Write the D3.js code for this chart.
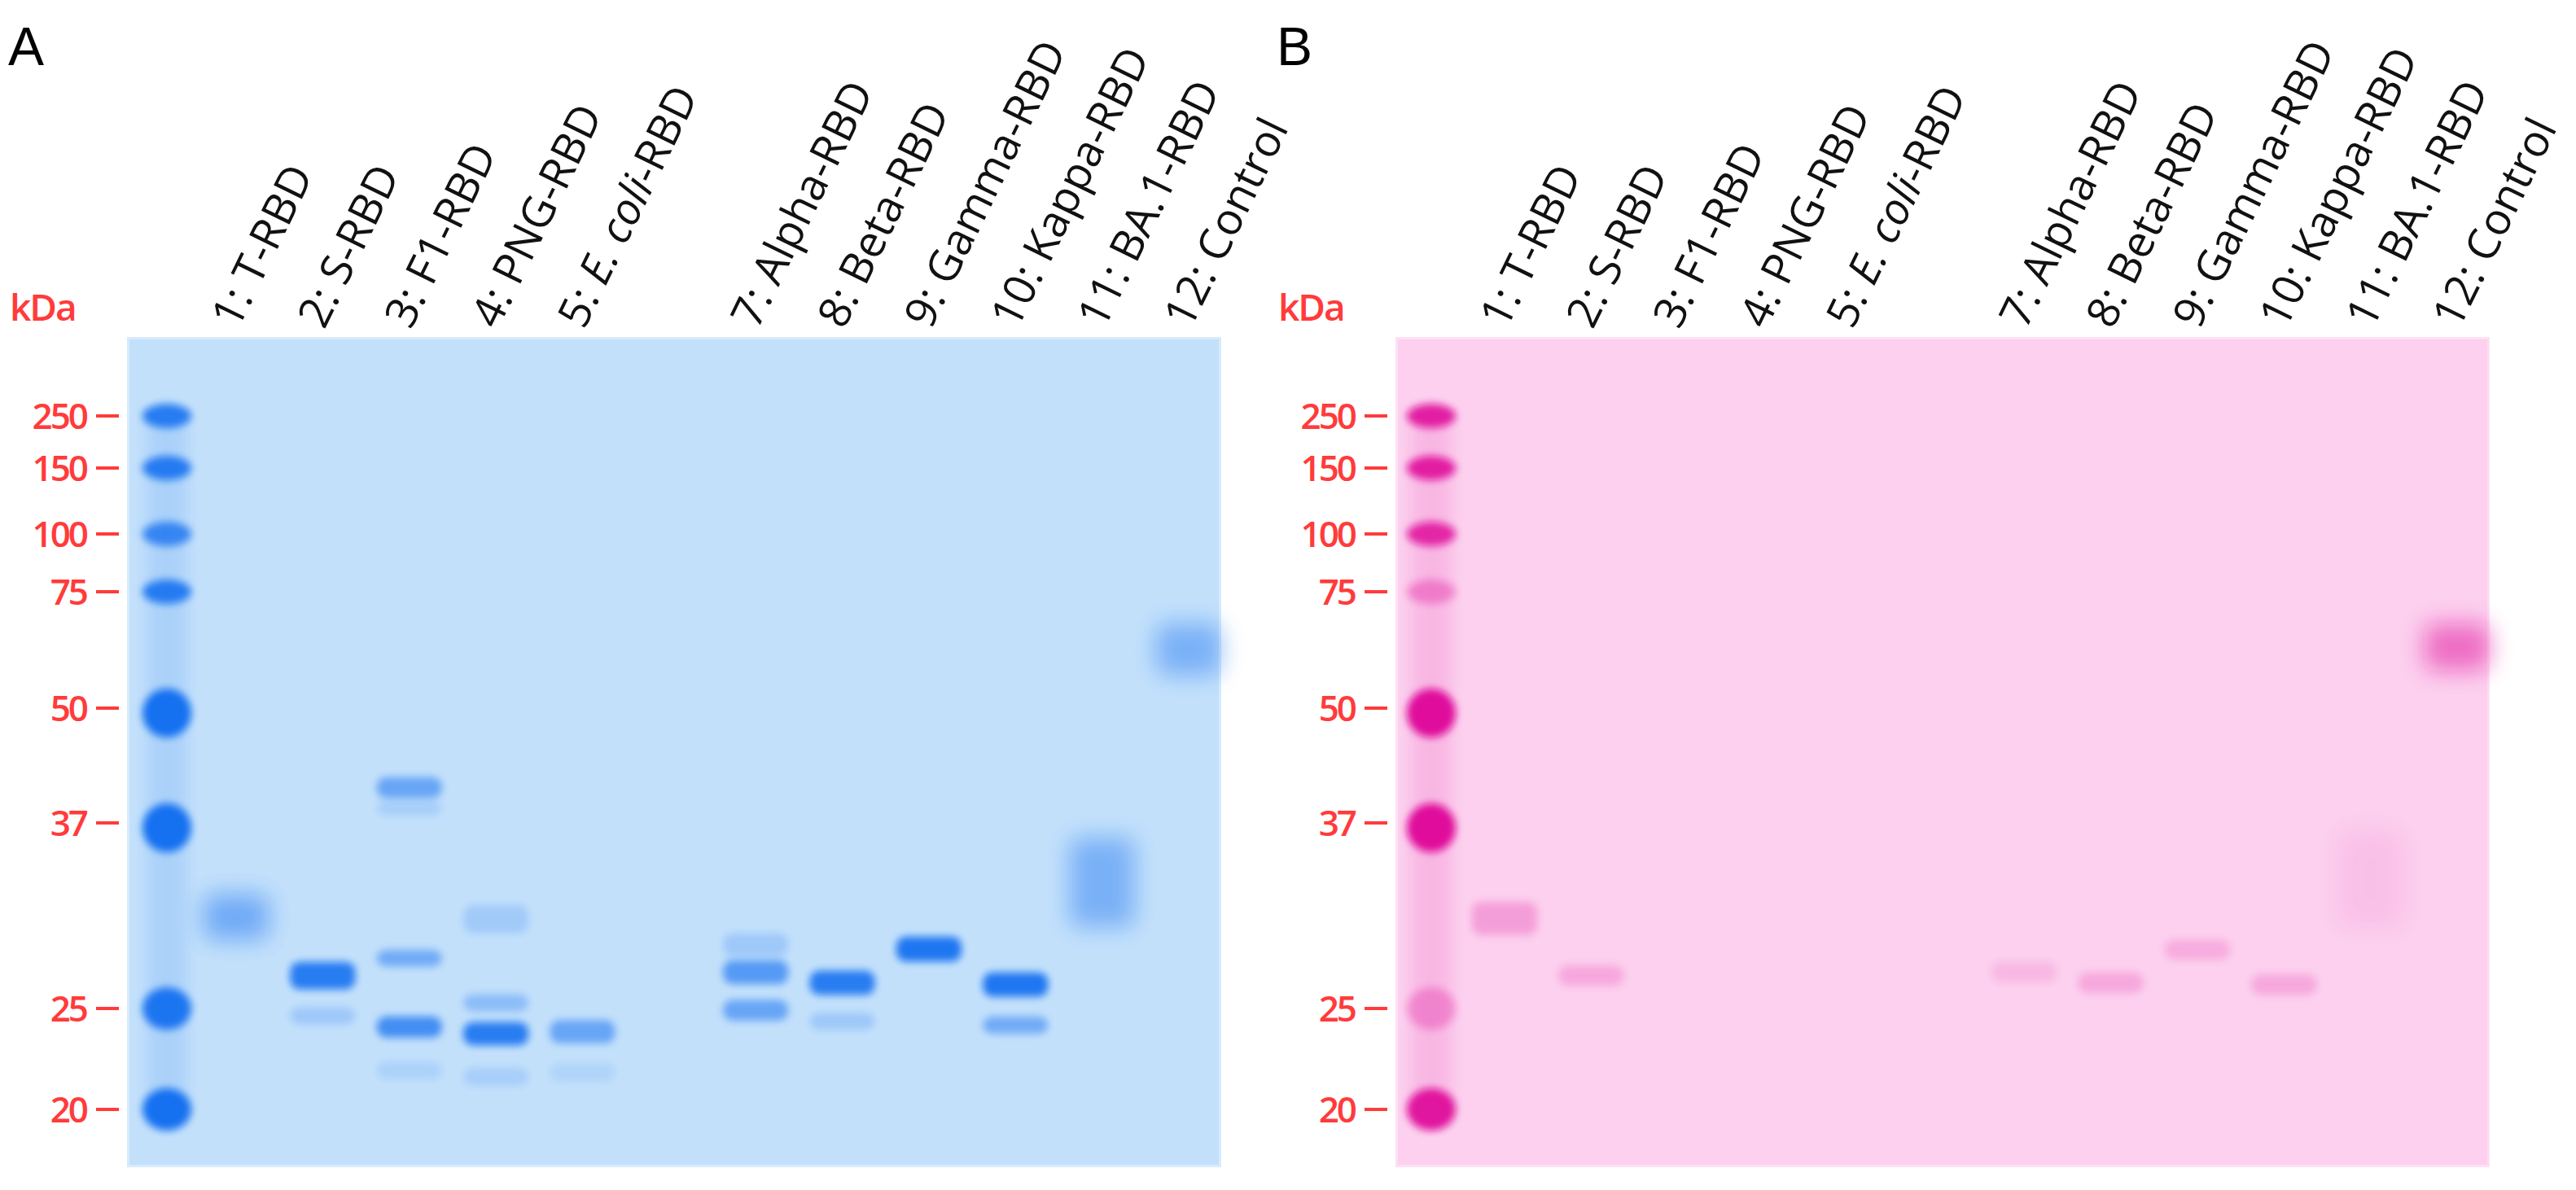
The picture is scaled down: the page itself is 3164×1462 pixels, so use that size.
<!DOCTYPE html>
<html><head><meta charset="utf-8">
<script src="https://cdn.jsdelivr.net/npm/d3@7"></script>
<style>body{margin:0;background:#fff}</style></head>
<body><svg id="c" width="3164" height="1462"></svg>
<script>
const laneLabels = ["1: T-RBD","2: S-RBD","3: F1-RBD","4: PNG-RBD","5: E. coli-RBD","","7: Alpha-RBD","8: Beta-RBD","9: Gamma-RBD","10: Kappa-RBD","11: BA.1-RBD","12: Control"];
const lanes = ["1","2","3","4","5","6","7","8","9","10","11","12"];
const markerKda = [250,150,100,75,50,37,25,20];
const ladderA = [0.85,0.85,0.75,0.85,0.95,0.95,0.9,0.95];
const ladderB = [0.9,0.9,0.85,0.35,1,1,0.3,0.95];
// [lane, kDa top, kDa bottom, intensity]
const bandsA = [
 ["1",31.5,29.2,0.45],
 ["2",27.3,26.3,0.85],["2",24.8,24.4,0.2],
 ["3",41.2,40.0,0.5],["3",38.7,38.2,0.15],["3",28.0,27.6,0.45],["3",24.3,23.7,0.7],["3",22.0,21.6,0.12],
 ["4",30.8,29.6,0.18],["4",25.5,25.1,0.3],["4",24.0,23.3,0.85],["4",21.7,21.3,0.15],
 ["5",24.1,23.4,0.5],["5",21.9,21.5,0.1],
 ["7",29.0,28.2,0.2],["7",27.4,26.6,0.6],["7",25.2,24.6,0.5],
 ["8",26.8,26.0,0.85],["8",24.5,24.1,0.2],
 ["9",28.8,27.9,0.9],
 ["10",26.7,25.9,0.9],["10",24.3,23.9,0.45],
 ["11",35.5,30.0,0.4],
 ["12",66,57,0.4]
];
const bandsB = [
 ["1",31.0,29.5,0.25],["2",27.1,26.5,0.2],["7",27.3,26.7,0.12],["8",26.7,26.1,0.2],
 ["9",28.6,28.0,0.18],["10",26.6,26.0,0.2],["11",36,30,0.08],["12",66,58,0.5]
];

const svg = d3.select("#c");
const defs = svg.append("defs");
[["b4",5],["b8",8],["b14",14]].forEach(([id,s])=>defs.append("filter").attr("id",id)
  .attr("x","-50%").attr("y","-50%").attr("width","200%").attr("height","200%")
  .append("feGaussianBlur").attr("stdDeviation",s));

const y = d3.scaleLog().domain(markerKda).range([511,575,656,727,870,1011,1239,1363]);
const x = d3.scalePoint().domain(lanes).range([290,1460]);

function panel(off, letter, bg, ink, ladder, bands){
  const g = svg.append("g").attr("transform",`translate(${off},0)`);
  g.append("text").attr("x",10).attr("y",80).attr("font-family","Liberation Sans, Arial").attr("font-size",66).text(letter);
  g.append("text").attr("x",12).attr("y",394).attr("fill","#ff3b3b").attr("font-family","Open Sans").attr("font-weight",600)
    .attr("font-size",46).attr("letter-spacing",-2).text("kDa");
  g.append("rect").attr("x",156).attr("y",414).attr("width",1344).attr("height",1020).attr("fill",bg);
  g.append("rect").attr("x",156).attr("y",414).attr("width",1344).attr("height",1020).attr("fill","none").attr("stroke","#fff").attr("stroke-opacity",0.35).attr("stroke-width",6);
  const lx = off===0 ? 205 : 200;
  g.append("rect").attr("x",lx-25).attr("y",y(250)).attr("width",50).attr("height",y(20)-y(250)).attr("fill",ink).attr("opacity",0.12).attr("filter","url(#b8)");
  g.selectAll(".lad").data(markerKda).join("ellipse")
    .attr("cx",lx).attr("rx",30)
    .attr("cy",d=>y(d)+(d===50||d===37?6:0))
    .attr("ry",d=>d===50||d===37?30:d===20||d===25?26:15)
    .attr("fill",ink).attr("opacity",(d,i)=>ladder[i]).attr("filter","url(#b4)");
  const ax = g.append("g");
  markerKda.forEach(k=>{
    ax.append("text").attr("x",106).attr("y",y(k)+16).attr("text-anchor","end").attr("fill","#ff3b3b")
      .attr("font-family","Open Sans").attr("font-weight",600).attr("font-size",44).attr("letter-spacing",-3).text(k);
    ax.append("line").attr("x1",118).attr("x2",146).attr("y1",y(k)).attr("y2",y(k)).attr("stroke","#ff3b3b").attr("stroke-width",4);
  });
  g.selectAll(".band").data(bands).join("rect")
    .attr("x",d=>x(d[0])-40).attr("width",80)
    .attr("y",d=>y(d[1])-6).attr("height",d=>Math.max(12,y(d[2])-y(d[1])+12))
    .attr("rx",12).attr("fill",ink).attr("opacity",d=>d[3])
    .attr("filter",d=>(y(d[2])-y(d[1]))>30?"url(#b14)":"url(#b4)");
  lanes.forEach((l,i)=>{
    if(!laneLabels[i]) return;
    const t = g.append("text").attr("transform",`translate(${x(l)+2},406) rotate(-64)`)
      .attr("font-family","Open Sans").attr("font-size",54).attr("fill","#111");
    const s = laneLabels[i];
    if(s.includes("E. coli")){
      t.append("tspan").text("5: ");
      t.append("tspan").attr("font-style","italic").text("E. coli");
      t.append("tspan").text("-RBD");
    } else t.text(s);
  });
}
panel(0,"A","#c3e0fb","#0a6cf0",ladderA,bandsA);
panel(1558,"B","#fcd0ee","#e0109c",ladderB,bandsB);
</script></body></html>
